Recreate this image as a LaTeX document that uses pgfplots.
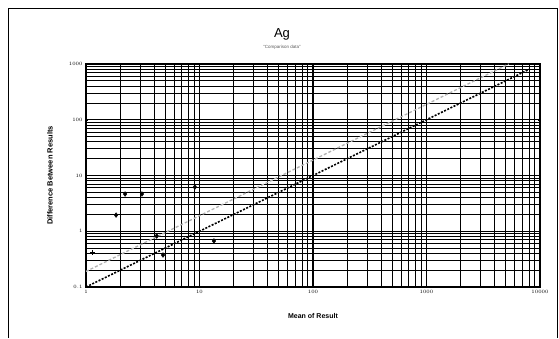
\documentclass[border=0pt]{standalone}
\usepackage{fontspec}
\setmainfont{Liberation Sans}
\usepackage{pgfplots}
\pgfplotsset{compat=1.18}
\begin{document}
\begin{tikzpicture}[x=1pt,y=1pt]
\useasboundingbox (0,0) rectangle (559,338);
\draw[line width=1pt] (8,0) -- (8,329) -- (557,329) -- (557,0);
\node[font=\fontsize{13}{13}\selectfont] at (282,304) {Ag};
\node[font=\fontsize{4.5}{4.5}\selectfont, gray!70!black] at (282,291) {``Comparison data''};
\begin{axis}[
  at={(86pt,51pt)}, anchor=south west,
  scale only axis, width=454pt, height=223pt,
  xmode=log, ymode=log,
  xmin=1, xmax=10000, ymin=0.1, ymax=1000,
  log ticks with fixed point,
  /pgf/number format/1000 sep={},
  grid=both,
  major grid style={black, line width=1.2pt},
  minor grid style={black, line width=0.9pt},
  axis line style={black, line width=1.2pt},
  tick style={black},
  major tick length=2pt, minor tick length=0pt,
  ticklabel style={font=\fontsize{4}{4}\selectfont},
  xtick={1,10,100,1000,10000},
  ytick={0.1,1,10,100,1000},
  xlabel={Mean of Result},
  ylabel={Difference Between Results},
  xlabel style={font=\fontsize{7}{7}\selectfont\bfseries, at={(axis description cs:0.5,0)}, anchor=north, yshift=-23pt},
  ylabel style={font=\fontsize{7.5}{7.5}\selectfont\bfseries, at={(axis description cs:0,0.5)}, anchor=center, yshift=36pt},
  clip=false,
]
\addplot[black, line width=1.6pt, dash pattern=on 2pt off 1.5pt] coordinates {(1,0.1) (8100,810)};
\addplot[gray!60, line width=1.3pt, dash pattern=on 3pt off 2pt] coordinates {(1,0.19) (5300,1000)};
\addplot[only marks, mark=+, mark size=2.5pt, black, line width=1pt] coordinates {(1.15,0.42)};
\addplot[only marks, mark=diamond*, mark size=2.4pt, black] coordinates {
(1.84,1.95) (2.21,4.66) (3.11,4.66) (9.1,6.2) (4.77,0.375) (13.4,0.67) (4.2,0.82)};
\end{axis}
\end{tikzpicture}
\end{document}
